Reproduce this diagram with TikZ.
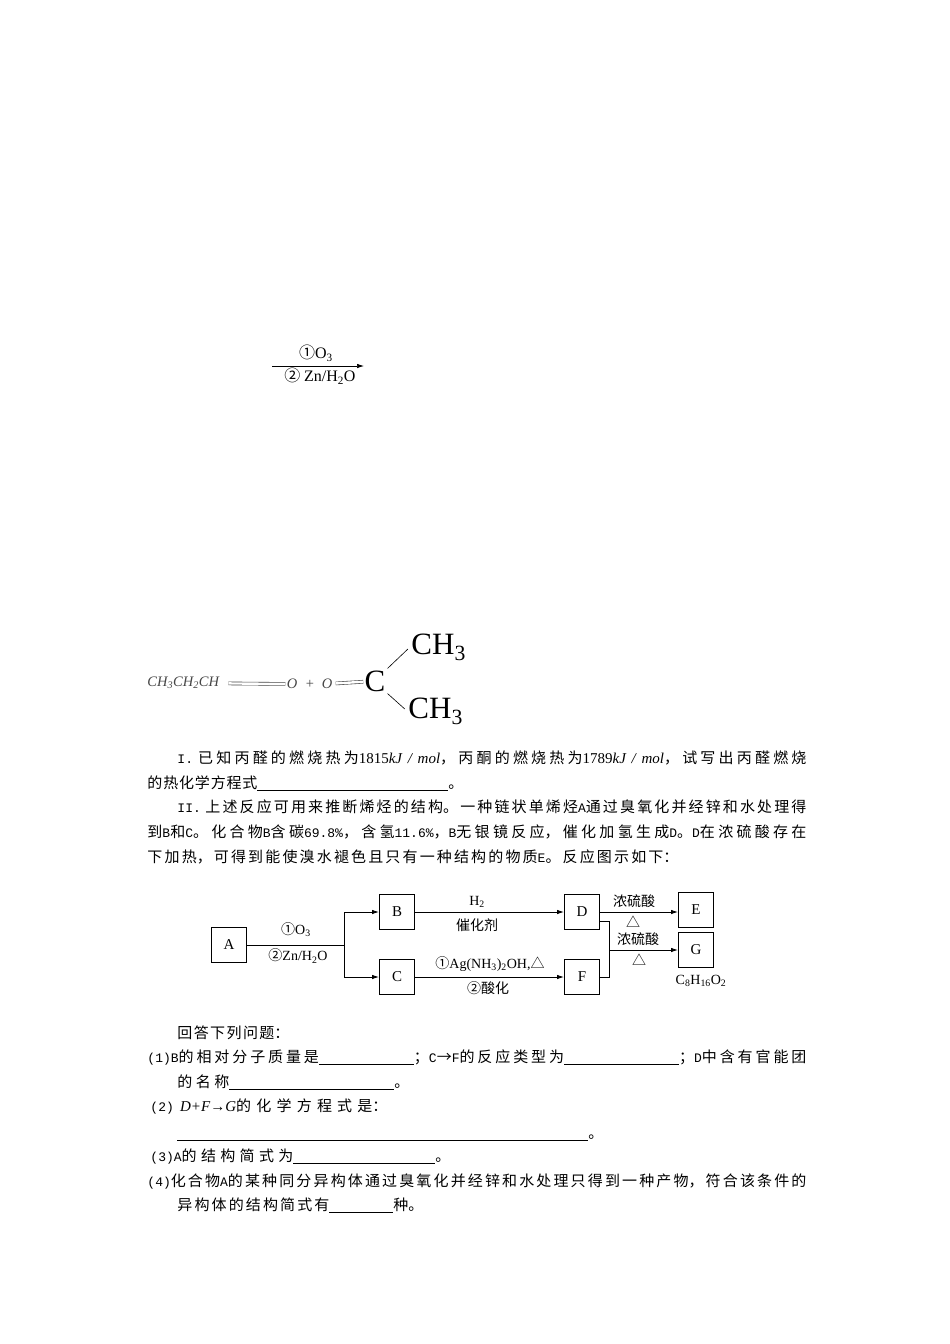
\documentclass[tikz,border=0pt]{standalone}
\usepackage{fontspec}
\setmainfont{Noto Sans CJK SC}
\newfontfamily\timesfont{Liberation Serif}
\newfontfamily\monofont{Liberation Mono}
\usetikzlibrary{arrows.meta,calc,positioning}
\definecolor{soft_gray}{RGB}{70,70,70}
\XeTeXlinebreaklocale "zh"
\XeTeXlinebreakskip=0pt plus 3pt minus 0.6pt
\newcommand{\tn}[1]{{\monofont\fontsize{13}{15}\selectfont #1}}
\newcommand{\tm}[1]{{\timesfont #1}}
\newcommand{\blank}[1]{\rule[-2.5pt]{#1}{0.7pt}}

\begin{document}
\begin{tikzpicture}[x=1pt,y=-1pt,>={Latex[length=7pt,width=4.5pt]},line width=0.9pt,
        textline/.style={anchor=west,inner sep=0pt,text width=#1,align=justify,text height=11pt,text depth=3pt,
            font=\fontsize{15}{18}\selectfont,execute at begin node={\parfillskip=0pt\relax}},
        letterbox/.style={draw,minimum width=35pt,minimum height=35pt,inner sep=0pt,font=\timesfont\fontsize{15}{18}\selectfont},
        schemelabel/.style={inner sep=0pt,font=\fontsize{14}{16}\selectfont},
        topscheme/.style={inner sep=0pt,font=\fontsize{16}{18}\selectfont},
        formula/.style={inner sep=0pt,soft_gray,font=\timesfont\itshape\fontsize{14.5}{16}\selectfont},
        bigatom/.style={inner sep=1pt,font=\timesfont\fontsize{31}{33}\selectfont}]
    \useasboundingbox (0,0) rectangle (950,1344);
    \fill[white] (0,0) rectangle (950,1344);

    % arrow at the top
    \coordinate (top_start) at (272,366);
    \coordinate (top_end) at (364,366);
    \draw[->,line width=0.7pt] (top_start) -- (top_end);
    \node[topscheme] (top_ozone) at (316,353) {①\tm{O\textsubscript{3}}};
    \node[topscheme] (top_zinc) at (320,376) {② \tm{Zn/H\textsubscript{2}O}};

    % ozonolysis products
    \node[formula,anchor=west] (propanal) at (147,683) {CH\textsubscript{3}CH\textsubscript{2}CH};
    \node[formula] (oxygen_a) at (292,684) {O};
    \node[formula] (plus_sign) at (310,684) {\upshape +};
    \node[formula] (oxygen_b) at (327,684) {O};
    \node[bigatom] (carbon) at (375,681) {C};
    \node[bigatom,anchor=west] (methyl_top) at (410,647) {CH\textsubscript{3}};
    \node[bigatom,anchor=west] (methyl_bottom) at (407,711) {CH\textsubscript{3}};
    \draw[soft_gray,line width=0.6pt,double,double distance=2.4pt,shorten <=9pt,shorten >=1pt] (propanal) -- (oxygen_a);
    \draw[soft_gray,line width=0.6pt,double,double distance=2.4pt,shorten <=3pt,shorten >=0pt] (oxygen_b) -- (carbon);
    \draw[line width=0.6pt,shorten <=1pt,shorten >=3pt] (carbon.north east) -- (methyl_top.west);
    \draw[line width=0.6pt,shorten <=1pt,shorten >=3pt] (carbon.south east) -- (methyl_bottom.west);

    % text above the scheme
    \node[textline=629pt] (line_one) at (177,759) {\tn{I.} 已知丙醛的燃烧热为\tm{1815\textit{kJ / mol}}，丙酮的燃烧热为\tm{1789\textit{kJ / mol}}，试写出丙醛燃烧};
    \node[textline=316pt] (line_two) at (147,784) {的热化学方程式\blank{191pt}。};
    \node[textline=629pt] (line_three) at (177,808) {\tn{II.} 上述反应可用来推断烯烃的结构。一种链状单烯烃\tn{A}通过臭氧化并经锌和水处理得};
    \node[textline=659pt] (line_four) at (147,833) {到\tn{B}和\tn{C}。化合物\tn{B}含碳\tn{69.8\%}，含氢\tn{11.6\%}，\tn{B}无银镜反应，催化加氢生成\tn{D}。\tn{D}在浓硫酸存在};
    \node[textline=531pt] (line_five) at (147,858) {下加热，可得到能使溴水褪色且只有一种结构的物质\tn{E}。反应图示如下：};

    % scheme
    \node[letterbox] (box_a) at (229,945) {A};
    \node[letterbox] (box_b) at (397,912) {B};
    \node[letterbox] (box_c) at (397,977) {C};
    \node[letterbox] (box_d) at (582,912) {D};
    \node[letterbox] (box_f) at (582,977) {F};
    \node[letterbox] (box_e) at (696,910) {E};
    \node[letterbox] (box_g) at (696,950) {G};
    \coordinate (fork) at (344,945);
    \coordinate (join_d) at (609,921);
    \coordinate (join_f) at (609,977);
    \coordinate (join_g) at (609,950);

    \draw (box_a.east) -- (fork);
    \draw[->] (fork) |- (box_b.west);
    \draw[->] (fork) |- (box_c.west);
    \draw[->] (box_b) -- (box_d);
    \draw[->] (box_c) -- (box_f);
    \draw[->] (box_d.east) -- (box_d.east -| box_e.west);
    \draw (box_d.east |- join_d) -- (join_d) -- (join_f) -- (box_f.east);
    \draw[->] (join_g) -- (box_g.west);

    \node[schemelabel] (ozone) at (296,930) {①\tm{O\textsubscript{3}}};
    \node[schemelabel] (zinc) at (298,956) {②\tm{Zn/H\textsubscript{2}O}};
    \node[schemelabel] (hydrogen) at (477,902) {\tm{H\textsubscript{2}}};
    \node[schemelabel] (catalyst) at (477,925) {催化剂};
    \node[schemelabel] (silver) at (490,964) {①\tm{Ag(NH\textsubscript{3})\textsubscript{2}OH,}△};
    \node[schemelabel] (acidify) at (488,988) {②酸化};
    \node[schemelabel] (acid_e) at (634,901) {浓硫酸};
    \node[schemelabel] (heat_e) at (633,922) {△};
    \node[schemelabel] (acid_g) at (638,939) {浓硫酸};
    \node[schemelabel] (heat_g) at (639,960) {△};
    \node[schemelabel] (formula_g) at (701,981) {\tm{C\textsubscript{8}H\textsubscript{16}O\textsubscript{2}}};

    % questions
    \node[textline=112pt] (question_head) at (177,1034) {回答下列问题：};
    \node[textline=659pt] (question_one) at (147,1058) {\tn{(1)B}的相对分子质量是\blank{95pt}；\tn{C}→\tn{F}的反应类型为\blank{115pt}；\tn{D}中含有官能团};
    \node[textline=232pt] (question_one_b) at (177,1083) {的名称\blank{165pt}。};
    \node[textline=237pt] (question_two) at (150,1107) {\tn{(2)} \tm{\textit{D+F}→\textit{G}}的化学方程式是：};
    \node[textline=421pt] (question_two_b) at (177,1134) {\blank{411pt}。};
    \node[textline=300pt] (question_three) at (150,1157) {\tn{(3)A}的结构简式为\blank{142pt}。};
    \node[textline=659pt] (question_four) at (147,1182) {\tn{(4)}化合物\tn{A}的某种同分异构体通过臭氧化并经锌和水处理只得到一种产物，符合该条件的};
    \node[textline=246pt] (question_four_b) at (177,1206) {异构体的结构简式有\blank{64pt}种。};
\end{tikzpicture}
\end{document}
